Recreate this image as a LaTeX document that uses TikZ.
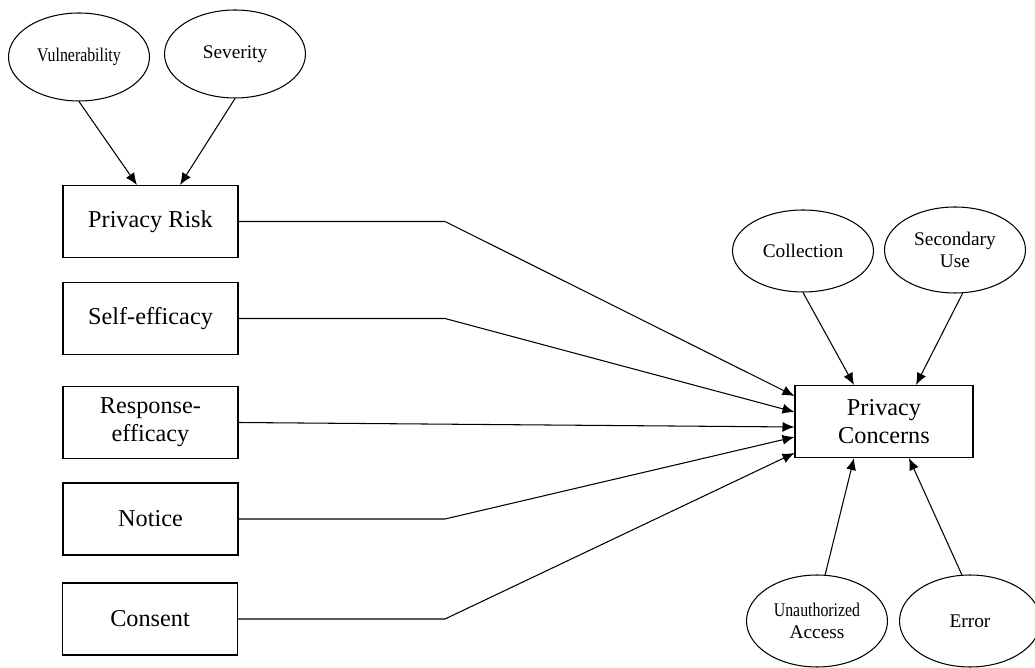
\documentclass[tikz,border=0pt]{standalone}
\usepackage{fontspec}
\setmainfont{Liberation Serif}
\usepackage{graphicx}
\usetikzlibrary{shapes.geometric,arrows.meta}

\newcommand{\squeeze}[1]{\scalebox{0.82}[1]{#1}}

\begin{document}
\begin{tikzpicture}[x=0.02cm, y=-0.02cm,
    box/.style={draw, line width=0.6pt, minimum width=3.5cm, minimum height=1.44cm,
        inner sep=0pt, align=center, font=\fontsize{13.8}{16}\selectfont},
    oval/.style={draw, ellipse, line width=0.6pt, minimum width=2.82cm, minimum height=1.76cm,
        inner sep=0pt, align=center, font=\fontsize{11}{12.5}\selectfont},
    arr/.style={line width=0.6pt, -{Latex[length=2.4mm,width=2mm]}}]

    % Fix the page size
    \useasboundingbox (0,0) rectangle (1035,668);

    % Draw the boxes
    \node[box] (risk) at (150.5,221.5) {Privacy Risk};
    \node[box] (self) at (150.5,318.5) {Self-efficacy};
    \node[box] (resp) at (150.5,422.5) {Response-\\efficacy};
    \node[box] (notice) at (150.5,519) {Notice};
    \node[box] (consent) at (150,619) {Consent};
    \node[box, minimum width=3.56cm] (concern) at (884,421.5) {Privacy\\Concerns};

    % Draw the ellipses
    \node[oval] (vul) at (79,57) {\squeeze{Vulnerability}};
    \node[oval] (sev) at (235,54) {Severity};
    \node[oval, minimum height=1.64cm] (coll) at (803,251) {Collection};
    \node[oval, minimum height=1.72cm] (sec) at (955,250) {Secondary\\Use};
    \node[oval, minimum height=1.84cm] (unauth) at (817,621) {\squeeze{Unauthorized}\\Access};
    \node[oval, minimum height=1.84cm] (err) at (970,621) {Error};

    % Arrows into Privacy Risk
    \draw[arr] (vul.south) -- ([xshift=-0.27cm]risk.north);
    \draw[arr] (sev.south) -- ([xshift=0.59cm]risk.north);

    % Arrows from the left boxes
    \coordinate (bend) at (445,0);
    \foreach \src/\dy in {risk/0.51, self/0.19, notice/-0.31, consent/-0.63}
        \draw[arr] (\src.east) -- (\src.east -| bend) -- ([yshift=\dy cm]concern.west);
    \draw[arr] (resp.east) -- ([yshift=-0.11cm]concern.west);

    % Arrows into Privacy Concerns
    \draw[arr] (coll.south) -- ([xshift=-0.6cm]concern.north);
    \draw[arr] (sec.-80) -- ([xshift=0.64cm]concern.north);
    \draw[arr] (unauth.80) -- ([xshift=-0.6cm]concern.south);
    \draw[arr] (err.100) -- ([xshift=0.5cm]concern.south);

\end{tikzpicture}
\end{document}
